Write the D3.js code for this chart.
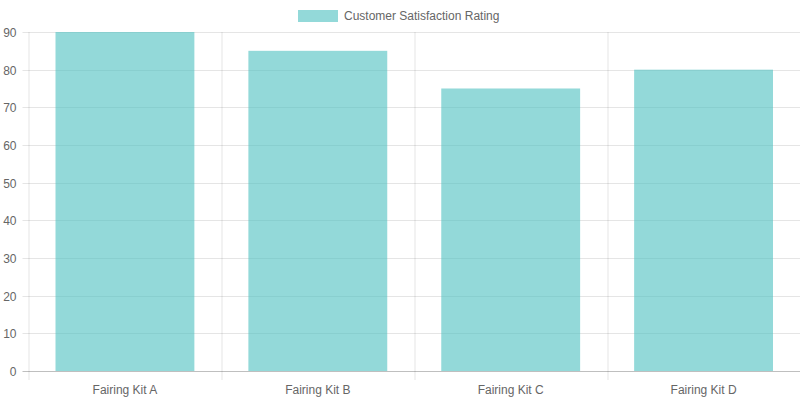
<!DOCTYPE html>
<html>
<head>
<meta charset="utf-8">
<script src="https://cdn.jsdelivr.net/npm/d3@7"></script>
<style>
  body { margin: 0; background: #fff; }
  svg text { font-family: "Liberation Sans", Arial, sans-serif; font-size: 12px; fill: #666; }
</style>
</head>
<body>
<div id="chart"></div>
<script>
const categories = ["Fairing Kit A", "Fairing Kit B", "Fairing Kit C", "Fairing Kit D"];
const ratings = [90, 85, 75, 80];
const yTicks = [0, 10, 20, 30, 40, 50, 60, 70, 80, 90];
const seriesName = "Customer Satisfaction Rating";

const W = 800, H = 400;
const margin = {top: 32, right: 0, bottom: 29, left: 28.5};
const width = W - margin.left - margin.right;
const height = H - margin.top - margin.bottom;

const svg = d3.select("#chart").append("svg")
    .attr("width", W).attr("height", H);

const g = svg.append("g").attr("transform", `translate(${margin.left},${margin.top})`);

const x = d3.scaleBand().domain(categories).range([0, width]).paddingInner(0).paddingOuter(0);
const y = d3.scaleLinear().domain([0, 90]).range([height, 0]);

// horizontal grid + y ticks
yTicks.forEach(t => {
    const yy = Math.round(y(t)) + 0.5;
    g.append("line").attr("x1", -6).attr("x2", width).attr("y1", yy).attr("y2", yy)
        .attr("stroke", t === 0 ? "rgba(0,0,0,0.25)" : "rgba(0,0,0,0.1)");
    g.append("text").attr("x", -12).attr("y", yy).attr("dy", "0.35em")
        .attr("text-anchor", "end").text(t);
});

// vertical grid lines at category boundaries
d3.range(categories.length + 1).forEach(i => {
    const xx = Math.round(i * x.bandwidth()) + 0.5;
    g.append("line").attr("x1", xx).attr("x2", xx).attr("y1", 0).attr("y2", height + 9)
        .attr("stroke", "rgba(0,0,0,0.1)");
});

// bars
const barW = x.bandwidth() * 0.72;
g.selectAll("rect.bar").data(categories).enter().append("rect")
    .attr("class", "bar")
    .attr("x", d => x(d) + (x.bandwidth() - barW) / 2)
    .attr("y", (d, i) => y(ratings[i]))
    .attr("width", barW)
    .attr("height", (d, i) => y(0) - y(ratings[i]))
    .attr("fill", "rgba(75,192,192,0.6)");

// x labels
g.selectAll("text.xl").data(categories).enter().append("text")
    .attr("class", "xl")
    .attr("x", d => x(d) + x.bandwidth() / 2)
    .attr("y", height + 19).attr("dy", "0.35em")
    .attr("text-anchor", "middle").text(d => d);

// legend
const legend = svg.append("g");
legend.append("rect").attr("x", 298).attr("y", 10).attr("width", 40).attr("height", 12)
    .attr("fill", "rgba(75,192,192,0.6)");
legend.append("text").attr("x", 344).attr("y", 16).attr("dy", "0.35em").text(seriesName);
</script>
</body>
</html>
